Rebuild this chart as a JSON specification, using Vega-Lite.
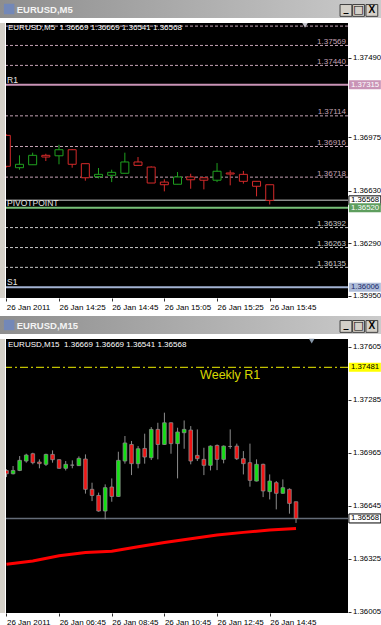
{
"$schema": "https://vega.github.io/schema/vega-lite/v6.json",
"background": "white",
"padding": 0,
"config": {"view": {"stroke": null}, "axis": {"grid": false, "domain": false}},
"datasets": {
"m5": [
{"t":"2011-01-26T14:05:00Z","o":1.36988,"h":1.36995,"l":1.36780,"c":1.36788},
{"t":"2011-01-26T14:10:00Z","o":1.36779,"h":1.36859,"l":1.36766,"c":1.36801},
{"t":"2011-01-26T14:15:00Z","o":1.36798,"h":1.36876,"l":1.36798,"c":1.36859},
{"t":"2011-01-26T14:20:00Z","o":1.36859,"h":1.36869,"l":1.36822,"c":1.36848},
{"t":"2011-01-26T14:25:00Z","o":1.36856,"h":1.36927,"l":1.36801,"c":1.36895},
{"t":"2011-01-26T14:30:00Z","o":1.36895,"h":1.36900,"l":1.36779,"c":1.36801},
{"t":"2011-01-26T14:35:00Z","o":1.36805,"h":1.36805,"l":1.36695,"c":1.36714},
{"t":"2011-01-26T14:40:00Z","o":1.36721,"h":1.36777,"l":1.36710,"c":1.36736},
{"t":"2011-01-26T14:45:00Z","o":1.36730,"h":1.36766,"l":1.36686,"c":1.36749},
{"t":"2011-01-26T14:50:00Z","o":1.36743,"h":1.36876,"l":1.36743,"c":1.36816},
{"t":"2011-01-26T14:55:00Z","o":1.36816,"h":1.36848,"l":1.36794,"c":1.36794},
{"t":"2011-01-26T15:00:00Z","o":1.36783,"h":1.36788,"l":1.36680,"c":1.36680},
{"t":"2011-01-26T15:05:00Z","o":1.36686,"h":1.36704,"l":1.36626,"c":1.36669},
{"t":"2011-01-26T15:10:00Z","o":1.36672,"h":1.36751,"l":1.36672,"c":1.36719},
{"t":"2011-01-26T15:15:00Z","o":1.36719,"h":1.36740,"l":1.36643,"c":1.36701},
{"t":"2011-01-26T15:20:00Z","o":1.36714,"h":1.36719,"l":1.36639,"c":1.36698},
{"t":"2011-01-26T15:25:00Z","o":1.36698,"h":1.36809,"l":1.36686,"c":1.36756},
{"t":"2011-01-26T15:30:00Z","o":1.36745,"h":1.36762,"l":1.36665,"c":1.36738},
{"t":"2011-01-26T15:35:00Z","o":1.36736,"h":1.36758,"l":1.36676,"c":1.36691},
{"t":"2011-01-26T15:40:00Z","o":1.36691,"h":1.36691,"l":1.36594,"c":1.36659},
{"t":"2011-01-26T15:45:00Z","o":1.36669,"h":1.36669,"l":1.36541,"c":1.36568}
],
"m15": [
{"t":"2011-01-26T04:45:00Z","o":1.36858,"h":1.36865,"l":1.36818,"c":1.36838},
{"t":"2011-01-26T05:00:00Z","o":1.36838,"h":1.36885,"l":1.36834,"c":1.36858},
{"t":"2011-01-26T05:15:00Z","o":1.36858,"h":1.36945,"l":1.36854,"c":1.36919},
{"t":"2011-01-26T05:30:00Z","o":1.36915,"h":1.36959,"l":1.36905,"c":1.36951},
{"t":"2011-01-26T05:45:00Z","o":1.36959,"h":1.36965,"l":1.36895,"c":1.36905},
{"t":"2011-01-26T06:00:00Z","o":1.36909,"h":1.36925,"l":1.36871,"c":1.36899},
{"t":"2011-01-26T06:15:00Z","o":1.36895,"h":1.36959,"l":1.36885,"c":1.36955},
{"t":"2011-01-26T06:30:00Z","o":1.36955,"h":1.36979,"l":1.36905,"c":1.36923},
{"t":"2011-01-26T06:45:00Z","o":1.36923,"h":1.36925,"l":1.36869,"c":1.36871},
{"t":"2011-01-26T07:00:00Z","o":1.36871,"h":1.36915,"l":1.36858,"c":1.36895},
{"t":"2011-01-26T07:15:00Z","o":1.36890,"h":1.36919,"l":1.36871,"c":1.36890},
{"t":"2011-01-26T07:30:00Z","o":1.36887,"h":1.36943,"l":1.36885,"c":1.36931},
{"t":"2011-01-26T07:45:00Z","o":1.36927,"h":1.36955,"l":1.36718,"c":1.36744},
{"t":"2011-01-26T08:00:00Z","o":1.36744,"h":1.36784,"l":1.36673,"c":1.36707},
{"t":"2011-01-26T08:15:00Z","o":1.36707,"h":1.36724,"l":1.36609,"c":1.36613},
{"t":"2011-01-26T08:30:00Z","o":1.36613,"h":1.36774,"l":1.36563,"c":1.36754},
{"t":"2011-01-26T08:45:00Z","o":1.36758,"h":1.36810,"l":1.36669,"c":1.36701},
{"t":"2011-01-26T09:00:00Z","o":1.36701,"h":1.36971,"l":1.36699,"c":1.36919},
{"t":"2011-01-26T09:15:00Z","o":1.36915,"h":1.37066,"l":1.36899,"c":1.37024},
{"t":"2011-01-26T09:30:00Z","o":1.37015,"h":1.37036,"l":1.36830,"c":1.36899},
{"t":"2011-01-26T09:45:00Z","o":1.36899,"h":1.37005,"l":1.36871,"c":1.36989},
{"t":"2011-01-26T10:00:00Z","o":1.36991,"h":1.37080,"l":1.36899,"c":1.36939},
{"t":"2011-01-26T10:15:00Z","o":1.36935,"h":1.37120,"l":1.36921,"c":1.37106},
{"t":"2011-01-26T10:30:00Z","o":1.37106,"h":1.37146,"l":1.36925,"c":1.37015},
{"t":"2011-01-26T10:45:00Z","o":1.37015,"h":1.37207,"l":1.37013,"c":1.37146},
{"t":"2011-01-26T11:00:00Z","o":1.37146,"h":1.37148,"l":1.36959,"c":1.37020},
{"t":"2011-01-26T11:15:00Z","o":1.37020,"h":1.37116,"l":1.36810,"c":1.37090},
{"t":"2011-01-26T11:30:00Z","o":1.37086,"h":1.37160,"l":1.36989,"c":1.37106},
{"t":"2011-01-26T11:45:00Z","o":1.37102,"h":1.37126,"l":1.36895,"c":1.36915},
{"t":"2011-01-26T12:00:00Z","o":1.36949,"h":1.37106,"l":1.36915,"c":1.36929},
{"t":"2011-01-26T12:15:00Z","o":1.36925,"h":1.36995,"l":1.36830,"c":1.36889},
{"t":"2011-01-26T12:30:00Z","o":1.36889,"h":1.37009,"l":1.36858,"c":1.37005},
{"t":"2011-01-26T12:45:00Z","o":1.37009,"h":1.37015,"l":1.36860,"c":1.36925},
{"t":"2011-01-26T13:00:00Z","o":1.36925,"h":1.37009,"l":1.36901,"c":1.37005},
{"t":"2011-01-26T13:15:00Z","o":1.37003,"h":1.37106,"l":1.36989,"c":1.37003},
{"t":"2011-01-26T13:30:00Z","o":1.37005,"h":1.37020,"l":1.36921,"c":1.36929},
{"t":"2011-01-26T13:45:00Z","o":1.36929,"h":1.36975,"l":1.36834,"c":1.36899},
{"t":"2011-01-26T14:00:00Z","o":1.36905,"h":1.37020,"l":1.36760,"c":1.36798},
{"t":"2011-01-26T14:15:00Z","o":1.36794,"h":1.36925,"l":1.36792,"c":1.36895},
{"t":"2011-01-26T14:30:00Z","o":1.36895,"h":1.36899,"l":1.36697,"c":1.36734},
{"t":"2011-01-26T14:45:00Z","o":1.36730,"h":1.36834,"l":1.36683,"c":1.36794},
{"t":"2011-01-26T15:00:00Z","o":1.36784,"h":1.36794,"l":1.36623,"c":1.36720},
{"t":"2011-01-26T15:15:00Z","o":1.36720,"h":1.36804,"l":1.36718,"c":1.36754},
{"t":"2011-01-26T15:30:00Z","o":1.36744,"h":1.36750,"l":1.36597,"c":1.36659},
{"t":"2011-01-26T15:45:00Z","o":1.36669,"h":1.36669,"l":1.36541,"c":1.36568}
],
"ma": [
{"t":"2011-01-26T04:45:00Z","v":1.36291},
{"t":"2011-01-26T05:45:00Z","v":1.36311},
{"t":"2011-01-26T06:45:00Z","v":1.36343},
{"t":"2011-01-26T07:45:00Z","v":1.36362},
{"t":"2011-01-26T08:45:00Z","v":1.36370},
{"t":"2011-01-26T09:45:00Z","v":1.36397},
{"t":"2011-01-26T10:45:00Z","v":1.36423},
{"t":"2011-01-26T11:45:00Z","v":1.36446},
{"t":"2011-01-26T12:45:00Z","v":1.36468},
{"t":"2011-01-26T13:45:00Z","v":1.36484},
{"t":"2011-01-26T14:45:00Z","v":1.36498},
{"t":"2011-01-26T15:45:00Z","v":1.36508}
],
"lv5": [
{"v":1.37694,"kind":"up"},{"v":1.37569,"kind":"up"},{"v":1.37440,"kind":"up"},{"v":1.37114,"kind":"up"},{"v":1.36916,"kind":"up"},{"v":1.36718,"kind":"up"},
{"v":1.36392,"kind":"dn"},{"v":1.36263,"kind":"dn"},{"v":1.36135,"kind":"dn"}
],
"ln5": [
{"v":1.37315,"name":"R1"},{"v":1.36568,"name":"price"},{"v":1.36520,"name":"PIVOTPOINT"},{"v":1.36006,"name":"S1"}
],
"bx5": [
{"v":1.37315,"kind":"R1"},{"v":1.36568,"kind":"price"},{"v":1.36520,"kind":"PP"},{"v":1.36006,"kind":"S1"}
],
"bx15": [
{"v":1.37481,"kind":"WR1"},{"v":1.36568,"kind":"price"}
]
},
"spacing": 5,
"vconcat": [
{"spacing": 3, "vconcat": [
 {"width": 381, "height": 18,
  "data": {"values": [{"name": "EURUSD,M5"}]},
  "layer": [
   {"mark": {"type": "rect", "color": {"gradient": "linear", "x1": 0, "y1": 0, "x2": 1, "y2": 0, "stops": [{"offset": 0, "color": "#8e8e8e"}, {"offset": 1, "color": "#cbcbcb"}]}},
    "encoding": {"x": {"datum": 0, "type": "quantitative", "scale": {"domain": [0, 1]}, "axis": null}, "x2": {"datum": 1}, "y": {"datum": 0, "type": "quantitative", "scale": {"domain": [0, 1]}, "axis": null}, "y2": {"datum": 1}}},
   {"mark": {"type": "square", "size": 110, "color": "#7388b8", "opacity": 1}, "encoding": {"x": {"datum": 0.024, "type": "quantitative"}, "y": {"datum": 0.5, "type": "quantitative"}}},
   {"mark": {"type": "text", "align": "left", "baseline": "middle", "color": "#f4f4f4", "font": "Liberation Sans", "fontWeight": "bold", "fontSize": 9.5}, "encoding": {"x": {"datum": 0.044, "type": "quantitative"}, "y": {"datum": 0.47, "type": "quantitative"}, "text": {"field": "name"}}},
   {"mark": {"type": "square", "size": 140, "fill": "#d4d0c8", "stroke": "#404040", "strokeWidth": 1, "opacity": 1}, "encoding": {"x": {"datum": 0.908, "type": "quantitative"}, "y": {"datum": 0.42, "type": "quantitative"}}},
   {"mark": {"type": "square", "size": 140, "fill": "#d4d0c8", "stroke": "#404040", "strokeWidth": 1, "opacity": 1}, "encoding": {"x": {"datum": 0.941, "type": "quantitative"}, "y": {"datum": 0.42, "type": "quantitative"}}},
   {"mark": {"type": "square", "size": 140, "fill": "#d4d0c8", "stroke": "#404040", "strokeWidth": 1, "opacity": 1}, "encoding": {"x": {"datum": 0.976, "type": "quantitative"}, "y": {"datum": 0.42, "type": "quantitative"}}},
   {"mark": {"type": "text", "text": "_", "align": "center", "baseline": "middle", "color": "black", "font": "DejaVu Sans", "fontWeight": "bold", "fontSize": 10, "dy": -2}, "encoding": {"x": {"datum": 0.908, "type": "quantitative"}, "y": {"datum": 0.42, "type": "quantitative"}}},
   {"mark": {"type": "text", "text": "□", "align": "center", "baseline": "middle", "color": "black", "font": "DejaVu Sans", "fontSize": 11}, "encoding": {"x": {"datum": 0.941, "type": "quantitative"}, "y": {"datum": 0.42, "type": "quantitative"}}},
   {"mark": {"type": "text", "text": "X", "align": "center", "baseline": "middle", "color": "black", "font": "Liberation Sans", "fontWeight": "bold", "fontSize": 10}, "encoding": {"x": {"datum": 0.976, "type": "quantitative"}, "y": {"datum": 0.42, "type": "quantitative"}}}
  ]},
 {"spacing": 1, "bounds": "flush", "hconcat": [
  {"width": 5, "height": 275, "view": {"fill": "#d4d0c8", "stroke": null}, "data": {"values": []}, "mark": "point"},
  {"width": 342, "height": 275,
   "view": {"fill": "black", "stroke": null},
   "layer": [
    {"data": {"name": "lv5"}, "mark": {"type": "rule", "strokeDash": [3, 2], "strokeWidth": 1},
     "encoding": {"y": {"field": "v", "type": "quantitative", "scale": {"domain": [1.35937, 1.37714], "zero": false, "nice": false}},
      "color": {"condition": {"test": "datum.kind=='dn'", "value": "#c6c6c6"}, "value": "#c4a2b4"}}},
    {"data": {"name": "lv5"}, "transform": [{"filter": "datum.v < 1.3768"}], "mark": {"type": "text", "align": "right", "baseline": "alphabetic", "dx": -2, "dy": -1.5, "font": "Liberation Sans", "fontSize": 8, "clip": true},
     "encoding": {"x": {"value": "width"}, "y": {"field": "v", "type": "quantitative", "scale": {"domain": [1.35937, 1.37714], "zero": false, "nice": false}},
      "text": {"field": "v", "type": "quantitative", "format": ".5f"},
      "color": {"condition": {"test": "datum.kind=='dn'", "value": "#c6c6c6"}, "value": "#c4a2b4"}}},
    {"data": {"name": "ln5"}, "mark": {"type": "rule"},
     "encoding": {"y": {"field": "v", "type": "quantitative", "scale": {"domain": [1.35937, 1.37714], "zero": false, "nice": false}},
      "color": {"condition": [{"test": "datum.name=='R1'", "value": "#c993b6"}, {"test": "datum.name=='PIVOTPOINT'", "value": "#78c078"}, {"test": "datum.name=='S1'", "value": "#a3b3d3"}], "value": "#8a8a8a"},
      "strokeWidth": {"condition": {"test": "datum.name=='price'", "value": 1.5}, "value": 2}}},
    {"data": {"name": "ln5"}, "transform": [{"filter": "datum.name!='price'"}],
     "mark": {"type": "text", "align": "left", "baseline": "alphabetic", "dx": 1, "dy": -2, "font": "Liberation Sans", "fontSize": 8.5, "color": "#e6e6e6"},
     "encoding": {"x": {"datum": {"year": 2011, "month": 1, "date": 26, "hours": 14, "minutes": 4, "seconds": 53, "utc": true}, "type": "temporal"},
      "y": {"field": "v", "type": "quantitative", "scale": {"domain": [1.35937, 1.37714], "zero": false, "nice": false}},
      "text": {"field": "name"}}},
    {"data": {"name": "m5"}, "mark": {"type": "rule", "strokeWidth": 1, "clip": true},
     "encoding": {
      "x": {"field": "t", "type": "temporal",
       "scale": {"type": "utc", "padding": 0, "domain": [{"year": 2011, "month": 1, "date": 26, "hours": 14, "minutes": 4, "seconds": 53, "utc": true}, {"year": 2011, "month": 1, "date": 26, "hours": 16, "minutes": 14, "seconds": 43, "utc": true}]},
       "axis": {"title": null, "values": [
         {"year": 2011, "month": 1, "date": 26, "hours": 14, "minutes": 5, "utc": true},
         {"year": 2011, "month": 1, "date": 26, "hours": 14, "minutes": 25, "utc": true},
         {"year": 2011, "month": 1, "date": 26, "hours": 14, "minutes": 45, "utc": true},
         {"year": 2011, "month": 1, "date": 26, "hours": 15, "minutes": 5, "utc": true},
         {"year": 2011, "month": 1, "date": 26, "hours": 15, "minutes": 25, "utc": true},
         {"year": 2011, "month": 1, "date": 26, "hours": 15, "minutes": 45, "utc": true}],
        "labelExpr": "utchours(datum.value)==14 && utcminutes(datum.value)==5 ? '26 Jan 2011' : utcFormat(datum.value, '%d %b %H:%M')",
        "labelAlign": "left", "labelBaseline": "top", "labelFlush": false, "labelPadding": 2, "tickSize": 3, "tickColor": "#303030",
        "labelFont": "Liberation Sans", "labelFontSize": 8, "labelColor": "black", "labelOverlap": false}},
      "y": {"field": "l", "type": "quantitative", "scale": {"domain": [1.35937, 1.37714], "zero": false, "nice": false},
       "axis": {"title": null, "orient": "right", "values": [1.3595, 1.3612, 1.3629, 1.3646, 1.3663, 1.36805, 1.36975, 1.37145, 1.3749, 1.3766], "format": ".5f",
        "tickSize": 3, "tickColor": "#303030", "labelPadding": 1.5, "labelFont": "Liberation Sans", "labelFontSize": 7.8, "labelColor": "black", "labelOverlap": false}},
      "y2": {"field": "h"},
      "color": {"condition": {"test": "datum.c>=datum.o", "value": "#1fa01f"}, "value": "#d42a2a"}}},
    {"data": {"name": "m5"}, "mark": {"type": "bar", "width": 8, "fill": "black", "strokeWidth": 1, "clip": true},
     "encoding": {"x": {"field": "t", "type": "temporal"},
      "y": {"field": "o", "type": "quantitative", "scale": {"domain": [1.35937, 1.37714], "zero": false, "nice": false}},
      "y2": {"field": "c"},
      "stroke": {"condition": {"test": "datum.c>=datum.o", "value": "#1fa01f"}, "value": "#d42a2a"}}},
    {"data": {"values": [{"txt": "EURUSD,M5\u00a0\u00a01.36669 1.36669 1.36541 1.36568"}]},
     "mark": {"type": "text", "align": "left", "baseline": "top", "dx": 2, "dy": 0.5, "font": "Liberation Sans", "fontSize": 8, "color": "white"},
     "encoding": {"x": {"datum": {"year": 2011, "month": 1, "date": 26, "hours": 14, "minutes": 4, "seconds": 53, "utc": true}, "type": "temporal"},
      "y": {"datum": 1.37714, "type": "quantitative"}, "text": {"field": "txt"}}},
    {"data": {"values": [{}]}, "mark": {"type": "point", "shape": "triangle-down", "size": 30, "filled": true, "opacity": 1, "color": "#c0c0c8"},
     "encoding": {"x": {"datum": {"year": 2011, "month": 1, "date": 26, "hours": 15, "minutes": 58, "seconds": 24, "utc": true}, "type": "temporal"},
      "y": {"datum": 1.37699, "type": "quantitative"}}},
    {"data": {"name": "bx5"}, "mark": {"type": "point", "shape": "M0.2,-1H7.3V1H0.2Z", "size": 81, "filled": true, "opacity": 1, "stroke": "black"},
     "encoding": {"x": {"value": "width"},
      "y": {"field": "v", "type": "quantitative", "scale": {"domain": [1.35937, 1.37714], "zero": false, "nice": false}},
      "fill": {"condition": [{"test": "datum.kind=='R1'", "value": "#c993b6"}, {"test": "datum.kind=='PP'", "value": "#5e9e5e"}, {"test": "datum.kind=='S1'", "value": "#aebcd8"}], "value": "white"},
      "strokeWidth": {"condition": {"test": "datum.kind=='price'", "value": 1}, "value": 0}}},
    {"data": {"name": "bx5"}, "mark": {"type": "text", "align": "left", "baseline": "middle", "dx": 3, "font": "Liberation Sans", "fontSize": 7.8},
     "encoding": {"x": {"value": "width"},
      "y": {"field": "v", "type": "quantitative", "scale": {"domain": [1.35937, 1.37714], "zero": false, "nice": false}},
      "text": {"field": "v", "type": "quantitative", "format": ".5f"},
      "color": {"condition": [{"test": "datum.kind=='R1' || datum.kind=='PP'", "value": "white"}, {"test": "datum.kind=='S1'", "value": "#1a2a6a"}], "value": "black"}}}
   ]}
 ]}
]},
{"spacing": 3, "vconcat": [
 {"width": 381, "height": 18,
  "data": {"values": [{"name": "EURUSD,M15"}]},
  "layer": [
   {"mark": {"type": "rect", "color": {"gradient": "linear", "x1": 0, "y1": 0, "x2": 1, "y2": 0, "stops": [{"offset": 0, "color": "#8e8e8e"}, {"offset": 1, "color": "#cbcbcb"}]}},
    "encoding": {"x": {"datum": 0, "type": "quantitative", "scale": {"domain": [0, 1]}, "axis": null}, "x2": {"datum": 1}, "y": {"datum": 0, "type": "quantitative", "scale": {"domain": [0, 1]}, "axis": null}, "y2": {"datum": 1}}},
   {"mark": {"type": "square", "size": 110, "color": "#7388b8", "opacity": 1}, "encoding": {"x": {"datum": 0.024, "type": "quantitative"}, "y": {"datum": 0.5, "type": "quantitative"}}},
   {"mark": {"type": "text", "align": "left", "baseline": "middle", "color": "#f4f4f4", "font": "Liberation Sans", "fontWeight": "bold", "fontSize": 9.5}, "encoding": {"x": {"datum": 0.044, "type": "quantitative"}, "y": {"datum": 0.47, "type": "quantitative"}, "text": {"field": "name"}}},
   {"mark": {"type": "square", "size": 140, "fill": "#d4d0c8", "stroke": "#404040", "strokeWidth": 1, "opacity": 1}, "encoding": {"x": {"datum": 0.908, "type": "quantitative"}, "y": {"datum": 0.42, "type": "quantitative"}}},
   {"mark": {"type": "square", "size": 140, "fill": "#d4d0c8", "stroke": "#404040", "strokeWidth": 1, "opacity": 1}, "encoding": {"x": {"datum": 0.941, "type": "quantitative"}, "y": {"datum": 0.42, "type": "quantitative"}}},
   {"mark": {"type": "square", "size": 140, "fill": "#d4d0c8", "stroke": "#404040", "strokeWidth": 1, "opacity": 1}, "encoding": {"x": {"datum": 0.976, "type": "quantitative"}, "y": {"datum": 0.42, "type": "quantitative"}}},
   {"mark": {"type": "text", "text": "_", "align": "center", "baseline": "middle", "color": "black", "font": "DejaVu Sans", "fontWeight": "bold", "fontSize": 10, "dy": -2}, "encoding": {"x": {"datum": 0.908, "type": "quantitative"}, "y": {"datum": 0.42, "type": "quantitative"}}},
   {"mark": {"type": "text", "text": "□", "align": "center", "baseline": "middle", "color": "black", "font": "DejaVu Sans", "fontSize": 11}, "encoding": {"x": {"datum": 0.941, "type": "quantitative"}, "y": {"datum": 0.42, "type": "quantitative"}}},
   {"mark": {"type": "text", "text": "X", "align": "center", "baseline": "middle", "color": "black", "font": "Liberation Sans", "fontWeight": "bold", "fontSize": 10}, "encoding": {"x": {"datum": 0.976, "type": "quantitative"}, "y": {"datum": 0.42, "type": "quantitative"}}}
  ]},
 {"spacing": 1, "bounds": "flush", "hconcat": [
  {"width": 5, "height": 274, "view": {"fill": "#d4d0c8", "stroke": null}, "data": {"values": []}, "mark": "point"},
  {"width": 342, "height": 274,
   "view": {"fill": "black", "stroke": null},
   "layer": [
    {"data": {"values": [{"v": 1.37481}]}, "mark": {"type": "rule", "color": "#f0f000", "strokeDash": [8, 3, 2, 3], "strokeWidth": 1},
     "encoding": {"y": {"field": "v", "type": "quantitative", "scale": {"domain": [1.35997, 1.37652], "zero": false, "nice": false}}}},
    {"data": {"values": [{"label": "Weekly R1"}]}, "mark": {"type": "text", "align": "center", "baseline": "middle", "font": "Liberation Sans", "fontSize": 12.5, "color": "#d8d800"},
     "encoding": {"x": {"datum": {"year": 2011, "month": 1, "date": 26, "hours": 13, "minutes": 15, "utc": true}, "type": "temporal"},
      "y": {"datum": 1.37434, "type": "quantitative"}, "text": {"field": "label"}}},
    {"data": {"values": [{"v": 1.36568}]}, "mark": {"type": "rule", "color": "#646c78", "strokeWidth": 1.5},
     "encoding": {"y": {"field": "v", "type": "quantitative", "scale": {"domain": [1.35997, 1.37652], "zero": false, "nice": false}}}},
    {"data": {"name": "ma"}, "mark": {"type": "line", "color": "#ff0000", "strokeWidth": 3, "clip": true},
     "encoding": {"x": {"field": "t", "type": "temporal"},
      "y": {"field": "v", "type": "quantitative", "scale": {"domain": [1.35997, 1.37652], "zero": false, "nice": false}}}},
    {"data": {"name": "m15"}, "mark": {"type": "rule", "strokeWidth": 1, "color": "#8c8c8c", "clip": true},
     "encoding": {
      "x": {"field": "t", "type": "temporal",
       "scale": {"type": "utc", "padding": 0, "domain": [{"year": 2011, "month": 1, "date": 26, "hours": 4, "minutes": 43, "seconds": 52, "utc": true}, {"year": 2011, "month": 1, "date": 26, "hours": 17, "minutes": 43, "seconds": 30, "utc": true}]},
       "axis": {"title": null, "values": [
         {"year": 2011, "month": 1, "date": 26, "hours": 4, "minutes": 45, "utc": true},
         {"year": 2011, "month": 1, "date": 26, "hours": 6, "minutes": 45, "utc": true},
         {"year": 2011, "month": 1, "date": 26, "hours": 8, "minutes": 45, "utc": true},
         {"year": 2011, "month": 1, "date": 26, "hours": 10, "minutes": 45, "utc": true},
         {"year": 2011, "month": 1, "date": 26, "hours": 12, "minutes": 45, "utc": true},
         {"year": 2011, "month": 1, "date": 26, "hours": 14, "minutes": 45, "utc": true}],
        "labelExpr": "utchours(datum.value)==4 ? '26 Jan 2011' : utcFormat(datum.value, '%d %b %H:%M')",
        "labelAlign": "left", "labelBaseline": "top", "labelFlush": false, "labelPadding": 2, "tickSize": 3, "tickColor": "#303030",
        "labelFont": "Liberation Sans", "labelFontSize": 8, "labelColor": "black", "labelOverlap": false}},
      "y": {"field": "l", "type": "quantitative", "scale": {"domain": [1.35997, 1.37652], "zero": false, "nice": false},
       "axis": {"title": null, "orient": "right", "values": [1.36005, 1.36165, 1.36325, 1.36485, 1.36645, 1.36805, 1.36965, 1.37125, 1.37285, 1.37445, 1.37605], "format": ".5f",
        "tickSize": 3, "tickColor": "#303030", "labelPadding": 1.5, "labelFont": "Liberation Sans", "labelFontSize": 7.8, "labelColor": "black", "labelOverlap": false}},
      "y2": {"field": "h"}}},
    {"data": {"name": "m15"}, "mark": {"type": "bar", "width": 3.6, "stroke": "#8a8a8a", "strokeWidth": 0.8, "clip": true},
     "encoding": {"x": {"field": "t", "type": "temporal"},
      "y": {"field": "o", "type": "quantitative", "scale": {"domain": [1.35997, 1.37652], "zero": false, "nice": false}},
      "y2": {"field": "c"},
      "fill": {"condition": [{"test": "datum.c>datum.o", "value": "#12e012"}, {"test": "datum.c<datum.o", "value": "#f01414"}], "value": "#a0a0a0"}}},
    {"data": {"values": [{"txt": "EURUSD,M15\u00a0\u00a01.36669 1.36669 1.36541 1.36568"}]},
     "mark": {"type": "text", "align": "left", "baseline": "top", "dx": 2, "dy": 2, "font": "Liberation Sans", "fontSize": 8, "color": "white"},
     "encoding": {"x": {"datum": {"year": 2011, "month": 1, "date": 26, "hours": 4, "minutes": 43, "seconds": 52, "utc": true}, "type": "temporal"},
      "y": {"datum": 1.37652, "type": "quantitative"}, "text": {"field": "txt"}}},
    {"data": {"values": [{}]}, "mark": {"type": "point", "shape": "triangle-down", "size": 30, "filled": true, "opacity": 1, "color": "#8898aa"},
     "encoding": {"x": {"datum": {"year": 2011, "month": 1, "date": 26, "hours": 16, "minutes": 20, "seconds": 48, "utc": true}, "type": "temporal"},
      "y": {"datum": 1.37639, "type": "quantitative"}}},
    {"data": {"name": "bx15"}, "mark": {"type": "point", "shape": "M0.2,-1H7.3V1H0.2Z", "size": 81, "filled": true, "opacity": 1, "stroke": "black"},
     "encoding": {"x": {"value": "width"},
      "y": {"field": "v", "type": "quantitative", "scale": {"domain": [1.35997, 1.37652], "zero": false, "nice": false}},
      "fill": {"condition": {"test": "datum.kind=='WR1'", "value": "#ffff00"}, "value": "white"},
      "strokeWidth": {"condition": {"test": "datum.kind=='price'", "value": 1}, "value": 0}}},
    {"data": {"name": "bx15"}, "mark": {"type": "text", "align": "left", "baseline": "middle", "dx": 3, "font": "Liberation Sans", "fontSize": 7.8, "color": "black"},
     "encoding": {"x": {"value": "width"},
      "y": {"field": "v", "type": "quantitative", "scale": {"domain": [1.35997, 1.37652], "zero": false, "nice": false}},
      "text": {"field": "v", "type": "quantitative", "format": ".5f"}}}
   ]}
 ]}
]}
]
}
